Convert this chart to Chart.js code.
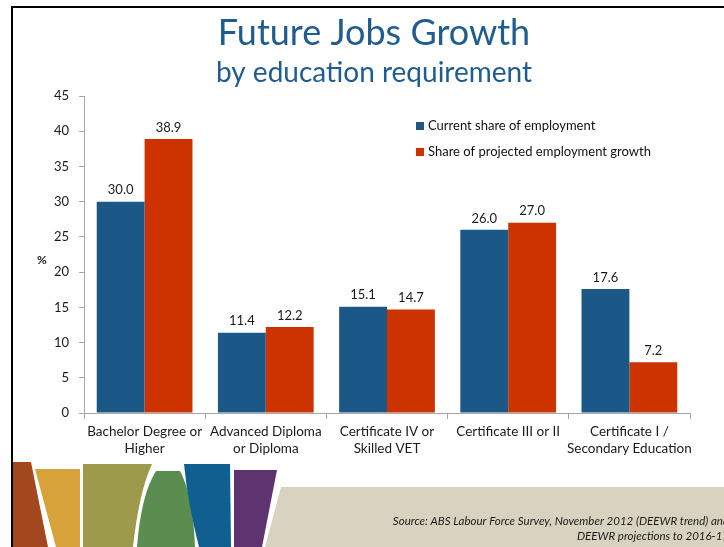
<!DOCTYPE html>
<html>
<head>
<meta charset="utf-8">
<script src="https://cdn.jsdelivr.net/npm/chart.js@4/dist/chart.umd.min.js"></script>
<style>
  body { margin: 0; background: #fff; }
  #wrap { width: 724px; height: 547px; position: relative; overflow: hidden; }
</style>
</head>
<body>
<div id="wrap"><canvas id="jobsChart" width="724" height="547"></canvas></div>
<script>
let categories = [
    ['Bachelor Degree or', 'Higher'],
    ['Advanced Diploma', 'or Diploma'],
    ['Certificate IV or', 'Skilled VET'],
    'Certificate III or II',
    ['Certificate I /', 'Secondary Education']
];
let currentShare = [30.0, 11.4, 15.1, 26.0, 17.6];
let projectedGrowth = [38.9, 12.2, 14.7, 27.0, 7.2];
let seriesNames = ['Current share of employment', 'Share of projected employment growth'];
let seriesColors = ['#1B5787', '#CC3300'];
let yMin = 0, yMax = 45, yStep = 5;

let titleText = 'Future Jobs Growth';
let subtitleText = 'by education requirement';
let sourceLines = ['Source: ABS Labour Force Survey, November 2012 (DEEWR trend) and', 'DEEWR projections to 2016-17'];

let fontFamily = 'Lato, "Open Sans", sans-serif';

// banner shapes along the bottom of the slide
let bannerShapes = [
    { color: '#A3471F', pts: [[13, 462], [31, 462], [48, 547], [13, 547]] },
    { color: '#D8A23A', pts: [[35, 469], [80, 469], [80, 547], [56, 547]] },
    { color: '#9D9B4B', pts: [[83, 464], [152, 464], ['q', 139, 492, 133, 547], [83, 547]] },
    { color: '#5B8C50', pts: [[156, 471], [180, 471], ['q', 193, 495, 195, 547], [137, 547], ['q', 141, 495, 156, 471]] },
    { color: '#0F6090', pts: [[184, 464], [230, 464], [231, 547], [199, 547], ['q', 188, 505, 184, 464]] },
    { color: '#5D3470', pts: [[234, 470], [277, 470], [262, 547], [234, 547]] },
    { color: '#D8D2C0', pts: [[281, 487], [724, 487], [724, 547], [265, 547]] }
];

let slideDecor = {
    id: 'slideDecor',
    beforeDraw(chart) {
        let c = chart.ctx;
        c.save();
        c.fillStyle = '#fff';
        c.fillRect(0, 0, chart.width, chart.height);
        bannerShapes.forEach(s => {
            c.beginPath();
            s.pts.forEach((p, i) => {
                if (p[0] === 'q') c.quadraticCurveTo(p[1], p[2], p[3], p[4]);
                else if (i === 0) c.moveTo(p[0], p[1]);
                else c.lineTo(p[0], p[1]);
            });
            c.closePath();
            c.fillStyle = s.color;
            c.fill();
        });
        // frame
        c.fillStyle = '#000';
        c.fillRect(11, 6, chart.width - 11, 2);
        c.fillRect(11, 6, 2, chart.height - 6);
        // heading
        c.fillStyle = '#1F5C8F';
        c.textAlign = 'center';
        c.textBaseline = 'middle';
        c.font = '36px ' + fontFamily;
        c.fillText(titleText, 374, 33);
        c.font = '28px ' + fontFamily;
        c.fillText(subtitleText, 374, 73);
        // source note
        c.fillStyle = '#1a1a1a';
        c.font = 'italic 11.5px ' + fontFamily;
        c.textAlign = 'right';
        c.fillText(sourceLines[0], 729, 521);
        c.fillText(sourceLines[1], 729, 536);
        c.restore();
    },
    afterDraw(chart) {
        let c = chart.ctx;
        c.save();
        // value labels over the bars
        c.font = '13px ' + fontFamily;
        c.fillStyle = '#1a1a1a';
        c.textAlign = 'center';
        c.textBaseline = 'bottom';
        chart.data.datasets.forEach((ds, di) => {
            chart.getDatasetMeta(di).data.forEach((bar, i) => {
                c.fillText(ds.data[i].toFixed(1), bar.x, bar.y - 5);
            });
        });
        // axis unit
        c.font = 'bold 12px ' + fontFamily;
        c.textBaseline = 'middle';
        c.fillText('%', 42, 260);
        // legend
        c.font = '13px ' + fontFamily;
        c.textAlign = 'left';
        chart.data.datasets.forEach((ds, di) => {
            let y = 126 + di * 26;
            c.fillStyle = ds.backgroundColor;
            c.fillRect(416, y - 4, 8, 8);
            c.fillStyle = '#111';
            c.fillText(ds.label, 428, y);
        });
        c.restore();
    }
};

let ctx = document.getElementById('jobsChart').getContext('2d');
let jobsChart = new Chart(ctx, {
    type: 'bar',
    data: {
        labels: categories,
        datasets: [{
            label: seriesNames[0],
            data: currentShare,
            backgroundColor: seriesColors[0]
        }, {
            label: seriesNames[1],
            data: projectedGrowth,
            backgroundColor: seriesColors[1]
        }]
    },
    options: {
        responsive: false,
        animation: false,
        layout: { padding: { top: 96, right: 34, bottom: 84, left: 0 } },
        datasets: {
            bar: { categoryPercentage: 0.79, barPercentage: 1.0 }
        },
        plugins: {
            legend: { display: false },
            tooltip: { enabled: false },
            title: { display: false }
        },
        scales: {
            x: {
                afterFit(scale) { scale.height = 50; },
                grid: { drawOnChartArea: false, tickLength: 6, color: '#A6A6A6' },
                border: { color: '#A6A6A6' },
                ticks: {
                    color: '#1a1a1a',
                    maxRotation: 0,
                    autoSkip: false,
                    padding: 4,
                    font: { family: fontFamily, size: 13.5, lineHeight: 1.25 }
                }
            },
            y: {
                min: yMin,
                max: yMax,
                afterFit(scale) { scale.width = 84; },
                grid: { drawOnChartArea: false, tickLength: 5, color: '#A6A6A6' },
                border: { color: '#A6A6A6' },
                ticks: {
                    stepSize: yStep,
                    color: '#1a1a1a',
                    padding: 10,
                    font: { family: fontFamily, size: 13 }
                }
            }
        }
    },
    plugins: [slideDecor]
});
</script>
</body>
</html>
